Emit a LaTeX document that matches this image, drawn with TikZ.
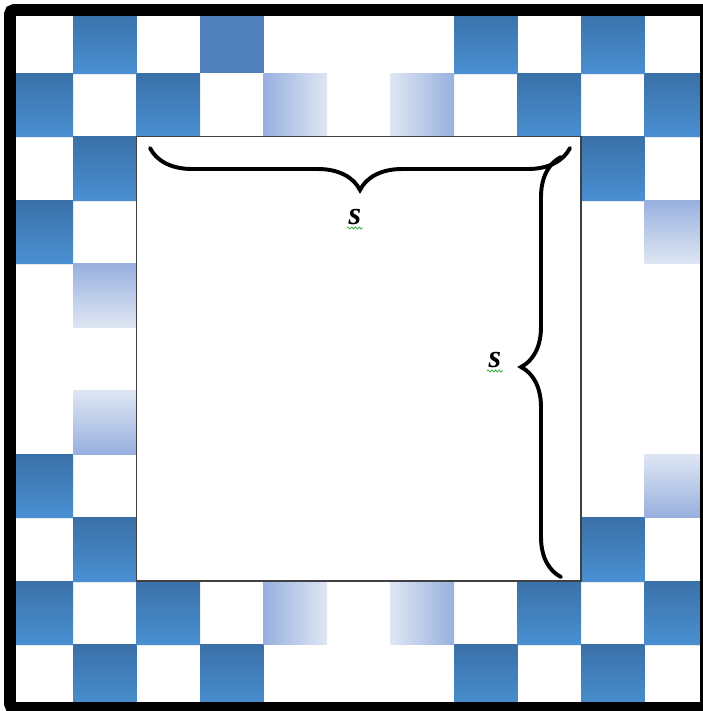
\documentclass[tikz,border=0pt]{standalone}
\usepackage{fontspec}
\setmainfont{Liberation Serif}
\usetikzlibrary{positioning, decorations.pathreplacing, decorations.pathmorphing, shadows}

\definecolor{tiletop}{HTML}{3A70A8}
\definecolor{tilebot}{HTML}{4A90D2}
\definecolor{tileflat}{HTML}{4F80BC}
\definecolor{fadeblue}{HTML}{98B0DF}
\definecolor{fadelight}{HTML}{DEE6F3}
\definecolor{spellgreen}{HTML}{3CB043}

\tikzset{
    bluetile/.style={top color=tiletop, bottom color=tilebot,
        drop shadow={opacity=.18, shadow xshift=0pt, shadow yshift=-1.2pt}},
    flattile/.style={fill=tileflat},
    fadeleft/.style={left color=fadeblue, right color=fadelight},
    faderight/.style={left color=fadelight, right color=fadeblue},
    fadedown/.style={top color=fadeblue, bottom color=fadelight},
    fadeup/.style={top color=fadelight, bottom color=fadeblue},
    sbrace/.style={decorate, line width=2.8pt, line cap=round},
    slabel/.style={inner sep=1pt, font=\fontsize{23}{23}\selectfont\bfseries\itshape},
    spellwave/.style={draw=spellgreen, line width=.6pt,
        decorate, decoration={snake, amplitude=.7pt, segment length=2.6pt}}
}

\begin{document}
\begin{tikzpicture}[x=0.025cm, y=-0.025cm]
    \useasboundingbox (0,0) rectangle (703,711);
    \fill[white] (0,0) rectangle (703,711);

    % tiles %
    \foreach \c/\r in {1/0,7/0,9/0, 0/1,2/1,8/1,10/1, 1/2,9/2, 0/3, 0/7,
            1/8,9/8, 0/9,2/9,8/9,10/9, 1/10,3/10,7/10,9/10}
        \path[bluetile] ({9.5+63.5*\c},{9.5+63.5*\r}) rectangle +(63.5,63.5);
    \fill[flattile] ({9.5+63.5*3},9.5) rectangle +(63.5,63.5);
    \foreach \r in {1,9} {
        \fill[fadeleft] ({9.5+63.5*4},{9.5+63.5*\r}) rectangle +(63.5,63.5);
        \fill[faderight] ({9.5+63.5*6},{9.5+63.5*\r}) rectangle +(63.5,63.5);
    }
    \fill[fadedown] ({9.5+63.5*10},{9.5+63.5*3}) rectangle +(63.5,63.5);
    \fill[fadedown] ({9.5+63.5*1},{9.5+63.5*4}) rectangle +(63.5,63.5);
    \fill[fadeup] ({9.5+63.5*1},{9.5+63.5*6}) rectangle +(63.5,63.5);
    \fill[fadeup] ({9.5+63.5*10},{9.5+63.5*7}) rectangle +(63.5,63.5);

    % board %
    \draw[fill=white, draw=black!75, line width=1pt] (136.5,136.5) rectangle (581,581);

    % frame %
    \draw[line width=8.5pt, rounded corners=3pt] (10,10) rectangle (706,708);

    % braces %
    \coordinate (topL) at (150,148);
    \coordinate (topR) at (570,148);
    \coordinate (sideT) at (561,157);
    \coordinate (sideB) at (561,577);
    \draw[sbrace, decoration={brace, mirror, amplitude=1.05cm}] (topL) -- (topR);
    \draw[sbrace, decoration={brace, amplitude=1cm}] (sideB) -- (sideT);

    \node[slabel] (sTop) at (355,217) {s};
    \node[slabel] (sSide) at (495,360) {s};
    \draw[spellwave] ([yshift=-2.5pt]sTop.base west) -- ([yshift=-2.5pt]sTop.base east);
    \draw[spellwave] ([yshift=-2.5pt]sSide.base west) -- ([yshift=-2.5pt]sSide.base east);
\end{tikzpicture}
\end{document}
